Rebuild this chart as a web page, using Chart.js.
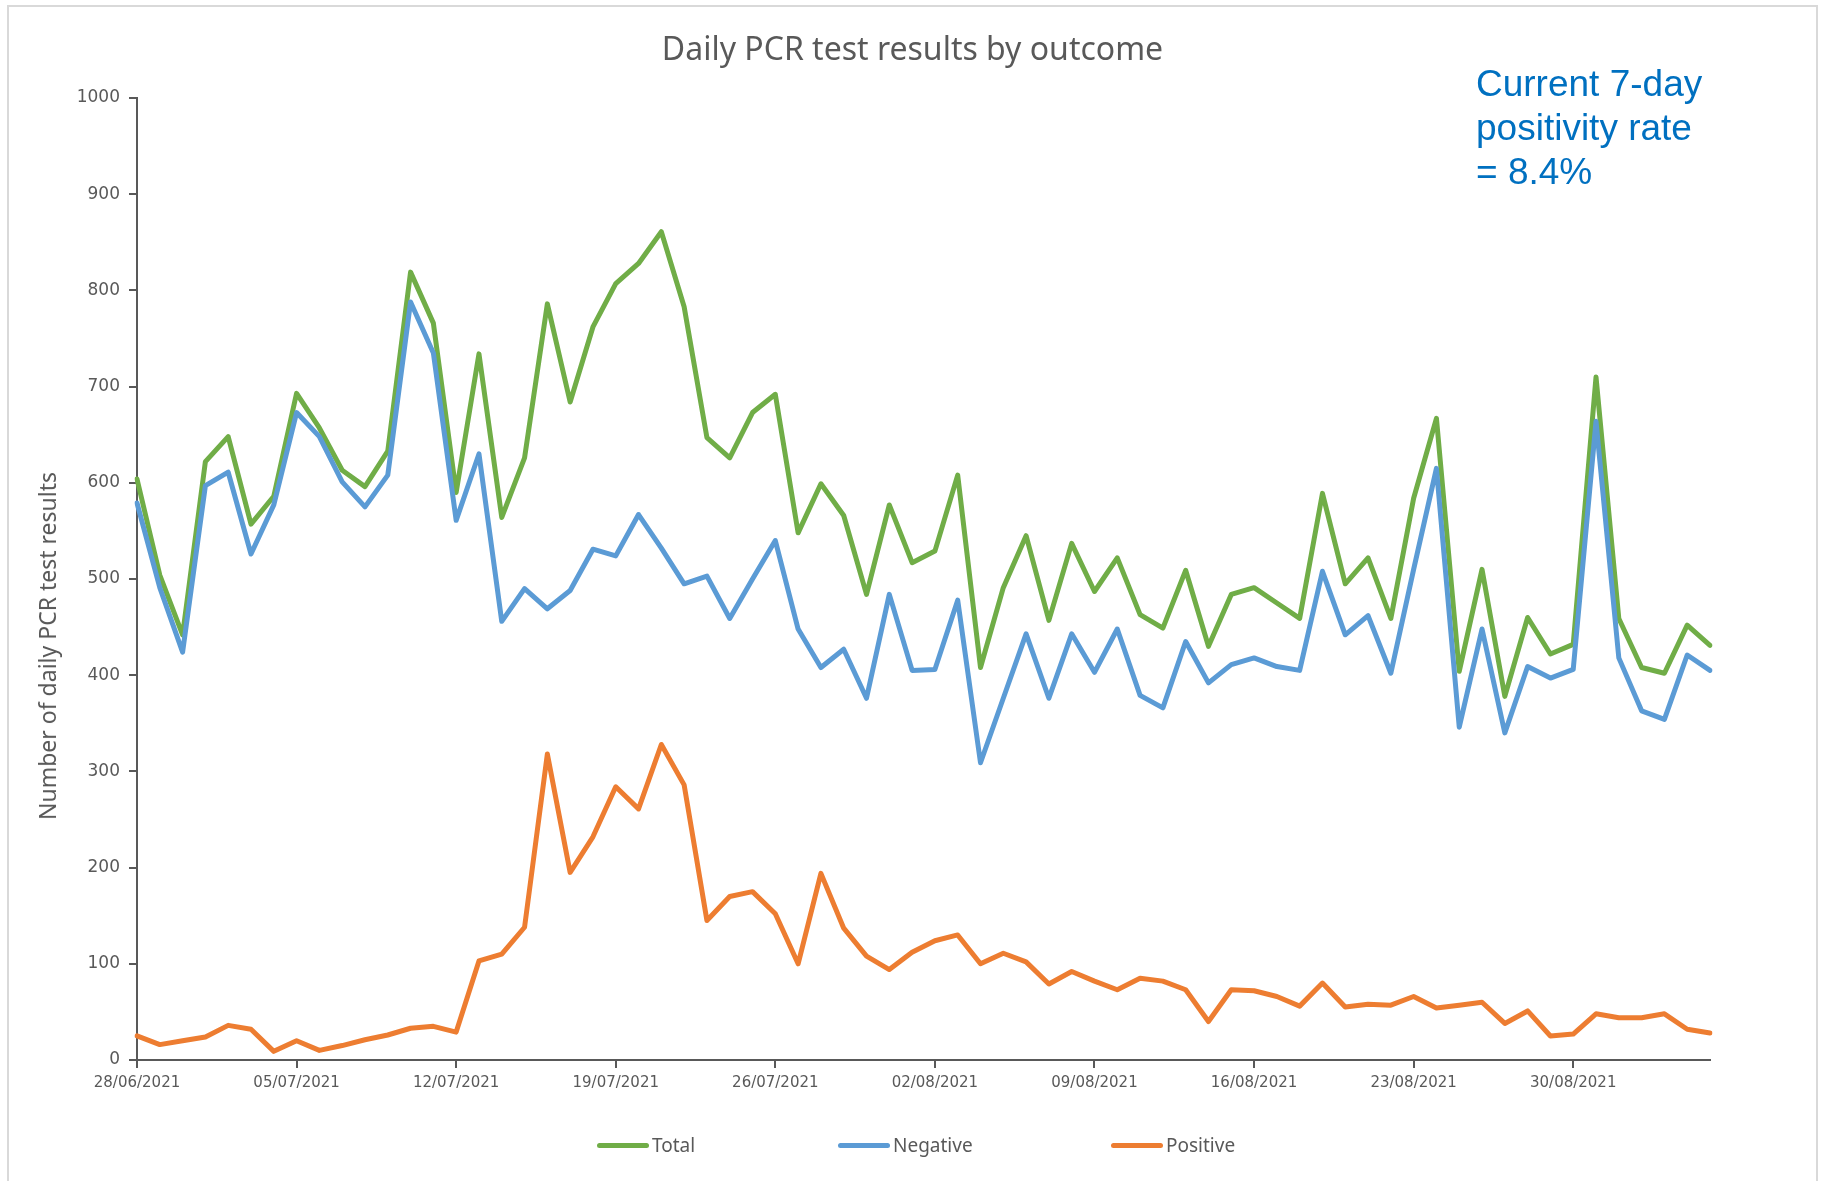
<!DOCTYPE html>
<html>
<head>
<meta charset="utf-8">
<script src="https://cdn.jsdelivr.net/npm/chart.js"></script>
<style>
  body { margin: 0; background: #fff; }
  #wrap { position: relative; width: 1825px; height: 1181px; overflow: hidden; }
  #frame { position: absolute; left: 7px; top: 5px; width: 1811px; height: 1200px; border: 2px solid #d9d9d9; box-sizing: border-box; }
  #chartBox { position: absolute; left: 0; top: 0; width: 1825px; height: 1181px; }
  #title { position: absolute; left: 0; width: 1825px; top: 26px; text-align: center; font-family: "Noto Sans", sans-serif; font-size: 32px; line-height: 44px; color: #595959; }
  #yTitle { position: absolute; left: 47px; top: 646px; transform: translate(-50%, -50%) rotate(-90deg); white-space: nowrap; font-family: "Noto Sans", sans-serif; font-size: 23px; color: #595959; }
  #note { position: absolute; left: 1476px; top: 62px; font-family: "Liberation Sans", Arial, sans-serif; font-size: 37px; line-height: 44px; color: #0070c0; }
  .leg { position: absolute; top: 1131px; height: 28px; display: flex; align-items: center; font-family: "Noto Sans", sans-serif; font-size: 19px; color: #595959; }
  .leg span.sw { display: inline-block; width: 52px; height: 5px; border-radius: 3px; margin-right: 3px; }
</style>
</head>
<body>
<div id="wrap">
  <div id="frame"></div>
  <div id="chartBox"><canvas id="pcrChart"></canvas></div>
  <div id="title">Daily PCR test results by outcome</div>
  <div id="yTitle">Number of daily PCR test results</div>
  <div id="note">Current 7-day<br>positivity rate<br>= 8.4%</div>
  <div class="leg" style="left:597px"><span class="sw" style="background:#70ad47"></span>Total</div>
  <div class="leg" style="left:838px"><span class="sw" style="background:#5b9bd5"></span>Negative</div>
  <div class="leg" style="left:1111px"><span class="sw" style="background:#ed7d31"></span>Positive</div>
</div>

<script>
  const dates = [
    '28/06/2021', '29/06/2021', '30/06/2021', '01/07/2021', '02/07/2021', '03/07/2021', '04/07/2021',
    '05/07/2021', '06/07/2021', '07/07/2021', '08/07/2021', '09/07/2021', '10/07/2021', '11/07/2021',
    '12/07/2021', '13/07/2021', '14/07/2021', '15/07/2021', '16/07/2021', '17/07/2021', '18/07/2021',
    '19/07/2021', '20/07/2021', '21/07/2021', '22/07/2021', '23/07/2021', '24/07/2021', '25/07/2021',
    '26/07/2021', '27/07/2021', '28/07/2021', '29/07/2021', '30/07/2021', '31/07/2021', '01/08/2021',
    '02/08/2021', '03/08/2021', '04/08/2021', '05/08/2021', '06/08/2021', '07/08/2021', '08/08/2021',
    '09/08/2021', '10/08/2021', '11/08/2021', '12/08/2021', '13/08/2021', '14/08/2021', '15/08/2021',
    '16/08/2021', '17/08/2021', '18/08/2021', '19/08/2021', '20/08/2021', '21/08/2021', '22/08/2021',
    '23/08/2021', '24/08/2021', '25/08/2021', '26/08/2021', '27/08/2021', '28/08/2021', '29/08/2021',
    '30/08/2021', '31/08/2021', '01/09/2021', '02/09/2021', '03/09/2021', '04/09/2021', '05/09/2021'
  ];

  const total = [
    604, 504, 442, 622, 648, 557, 586, 693, 657, 613, 596, 633, 819, 766,
    590, 734, 564, 626, 786, 684, 762, 807, 828, 861, 783, 647, 626, 673,
    692, 548, 599, 566, 484, 577, 517, 529, 608, 408, 491, 545, 457, 537,
    487, 522, 463, 449, 509, 430, 484, 491, 475, 459, 589, 495, 522, 459,
    584, 667, 404, 510, 378, 460, 422, 432, 710, 459, 408, 402, 452, 431
  ];

  const negative = [
    579, 491, 424, 597, 611, 526, 577, 673, 648, 601, 575, 608, 788, 735,
    561, 630, 456, 490, 469, 488, 531, 524, 567, 532, 495, 503, 459, 500,
    540, 448, 408, 427, 376, 484, 405, 406, 478, 309, 376, 443, 376, 443,
    403, 448, 379, 366, 435, 392, 411, 418, 409, 405, 508, 442, 462, 402,
    510, 615, 346, 448, 340, 409, 397, 406, 664, 418, 363, 354, 421, 405
  ];

  const positive = [
    25, 16, 20, 24, 36, 32, 9, 20, 10, 15, 21, 26, 33, 35,
    29, 103, 110, 138, 318, 195, 232, 284, 261, 328, 286, 145, 170, 175,
    152, 100, 194, 137, 108, 94, 112, 124, 130, 100, 111, 102, 79, 92,
    82, 73, 85, 82, 73, 40, 73, 72, 66, 56, 80, 55, 58, 57,
    66, 54, 57, 60, 38, 51, 25, 27, 48, 44, 44, 48, 32, 28
  ];

  const yTicks = [0, 100, 200, 300, 400, 500, 600, 700, 800, 900, 1000];

  const grey = '#595959';

  function line(label, data, color, order) {
    return {
      label: label, data: data, borderColor: color, backgroundColor: color,
      borderWidth: 5, pointRadius: 0, tension: 0, fill: false,
      borderJoinStyle: 'round', borderCapStyle: 'round', order: order
    };
  }

  let ctx = document.getElementById('pcrChart').getContext('2d');
  let pcrChart = new Chart(ctx, {
    type: 'line',
    data: {
      labels: dates,
      datasets: [
        line('Total', total, '#70ad47', 3),
        line('Negative', negative, '#5b9bd5', 2),
        line('Positive', positive, '#ed7d31', 1)
      ]
    },
    options: {
      responsive: true,
      maintainAspectRatio: false,
      animation: false,
      layout: { padding: { left: 0, right: 115, top: 98, bottom: 81 } },
      plugins: {
        legend: { display: false },
        tooltip: { enabled: false },
        title: { display: false }
      },
      scales: {
        x: {
          offset: false,
          afterBuildTicks: (scale) => { scale.ticks = scale.ticks.filter(t => t.value % 7 === 0); },
          afterFit: (scale) => { scale.height = 40; },
          ticks: { autoSkip: false, maxRotation: 0, padding: 6, color: grey, font: { family: 'DejaVu Sans', size: 15 } },
          grid: { drawOnChartArea: false, drawTicks: true, tickLength: 8, color: grey, lineWidth: 2 },
          border: { color: grey, width: 2 }
        },
        y: {
          min: 0,
          max: 1000,
          afterBuildTicks: (scale) => { scale.ticks = yTicks.map(v => ({ value: v })); },
          afterFit: (scale) => { scale.width = 137; },
          ticks: { padding: 9, color: grey, font: { family: 'DejaVu Sans', size: 17 }, callback: (v) => String(v) },
          grid: { drawOnChartArea: false, drawTicks: true, tickLength: 8, color: grey, lineWidth: 2 },
          border: { color: grey, width: 2 }
        }
      }
    }
  });
</script>
</body>
</html>
